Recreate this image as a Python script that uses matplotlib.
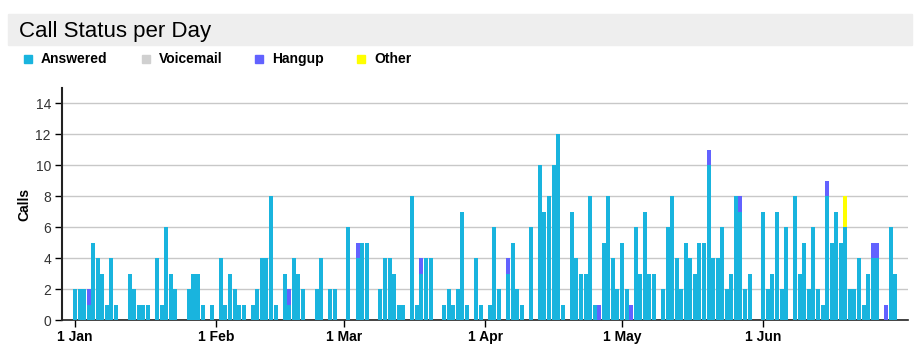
import matplotlib.pyplot as plt
from matplotlib.patches import Rectangle
import numpy as np

plt.rcParams['font.family'] = ['Liberation Sans', 'DejaVu Sans']

# calls per day, day 0 = 1 Jan ... day 180 = 30 Jun
answered = [2, 2, 2, 1, 5, 4, 3, 1, 4, 1,
            0, 0, 3, 2, 1, 1, 1, 0, 4, 1,
            6, 3, 2, 0, 0, 2, 3, 3, 1, 0,
            1, 0, 4, 1, 3, 2, 1, 1, 0, 1,
            2, 4, 4, 8, 1, 0, 3, 1, 4, 3,
            2, 0, 0, 2, 4, 0, 2, 2, 0, 0,
            6, 0, 4, 5, 5, 0, 0, 2, 4, 4,
            3, 1, 1, 0, 8, 1, 3, 4, 4, 0,
            0, 1, 2, 1, 2, 7, 1, 0, 4, 1,
            0, 1, 6, 2, 0, 3, 5, 2, 1, 0,
            6, 0, 10, 7, 8, 10, 12, 1, 0, 7,
            4, 3, 3, 8, 1, 0, 5, 8, 4, 2,
            5, 2, 0, 6, 3, 7, 3, 3, 0, 2,
            6, 8, 4, 2, 5, 4, 3, 5, 5, 10,
            4, 4, 6, 2, 3, 8, 7, 2, 3, 0,
            0, 7, 2, 3, 7, 2, 6, 0, 8, 3,
            5, 2, 6, 2, 1, 8, 5, 7, 5, 6,
            2, 2, 4, 1, 3, 4, 4, 0, 0, 6, 3]

hangup_days = [3, 47, 62, 76, 95, 115, 122, 139, 146, 165, 175, 176, 178]
hangup_counts = [1, 1, 1, 1, 1, 1, 1, 1, 1, 1, 1, 1, 1]
other_days = [169]
other_counts = [2]

month_ticks = [0, 31, 59, 90, 120, 151]
month_labels = ['1 Jan', '1 Feb', '1 Mar', '1 Apr', '1 May', '1 Jun']

series_names = ['Answered', 'Voicemail', 'Hangup', 'Other']
colors = ['#19b4de', '#d0d0d0', '#6262ff', '#ffff00']

n = len(answered)
days = np.arange(n)
ans = np.array(answered, dtype=float)
vm = np.zeros(n)
hu = np.zeros(n)
hu[hangup_days] = hangup_counts
ot = np.zeros(n)
ot[other_days] = other_counts

fig = plt.figure(figsize=(9.2, 3.58), dpi=100)
ax = fig.add_axes([62 / 920, 38 / 358, 846 / 920, 232 / 358])

w = 0.88
bottom = np.zeros(n)
for vals, c in zip([ans, vm, hu, ot], colors):
    ax.bar(days, vals, width=w, bottom=bottom, color=c, linewidth=0, zorder=3)
    bottom += vals

ax.set_xlim(-2.85, 182.75)
ax.set_ylim(0, 15)
ax.set_yticks(range(0, 15, 2))
ax.yaxis.grid(True, color='#c8c8c8', linewidth=1, zorder=0)
ax.set_xticks(month_ticks)
ax.set_xticklabels(month_labels, fontweight='bold', fontsize=10)
ax.tick_params(axis='y', labelsize=10, labelcolor='#333333', length=5,
               width=1, direction='out', pad=3)
ax.tick_params(axis='x', length=5, width=1, direction='out', pad=2)
for s in ['top', 'right']:
    ax.spines[s].set_visible(False)
ax.spines['left'].set_linewidth(1.5)
ax.spines['left'].set_color('#222222')
ax.spines['bottom'].set_linewidth(1.2)
ax.spines['bottom'].set_color('#222222')
ax.set_ylabel('Calls', fontweight='bold', fontsize=10)
ax.yaxis.set_label_coords(-31 / 846, 0.5)

# title band
fig.patches.append(Rectangle((8 / 920, 1 - 45 / 358), 904 / 920, 31 / 358,
                             transform=fig.transFigure, color='#eeeeee', zorder=0))
fig.text(19 / 920, 1 - 37.5 / 358, 'Call Status per Day', fontsize=16,
         va='baseline', ha='left')

# legend
leg_x = [24, 142, 255, 357]
for x, name, c in zip(leg_x, series_names, colors):
    fig.patches.append(Rectangle((x / 920, 1 - 63 / 358), 8 / 920, 8 / 358,
                                 transform=fig.transFigure, color=c))
    fig.text((x + 17) / 920, 1 - 59 / 358, name, fontsize=10, fontweight='bold',
             va='center', ha='left')

fig.savefig('out.png', dpi=100)
